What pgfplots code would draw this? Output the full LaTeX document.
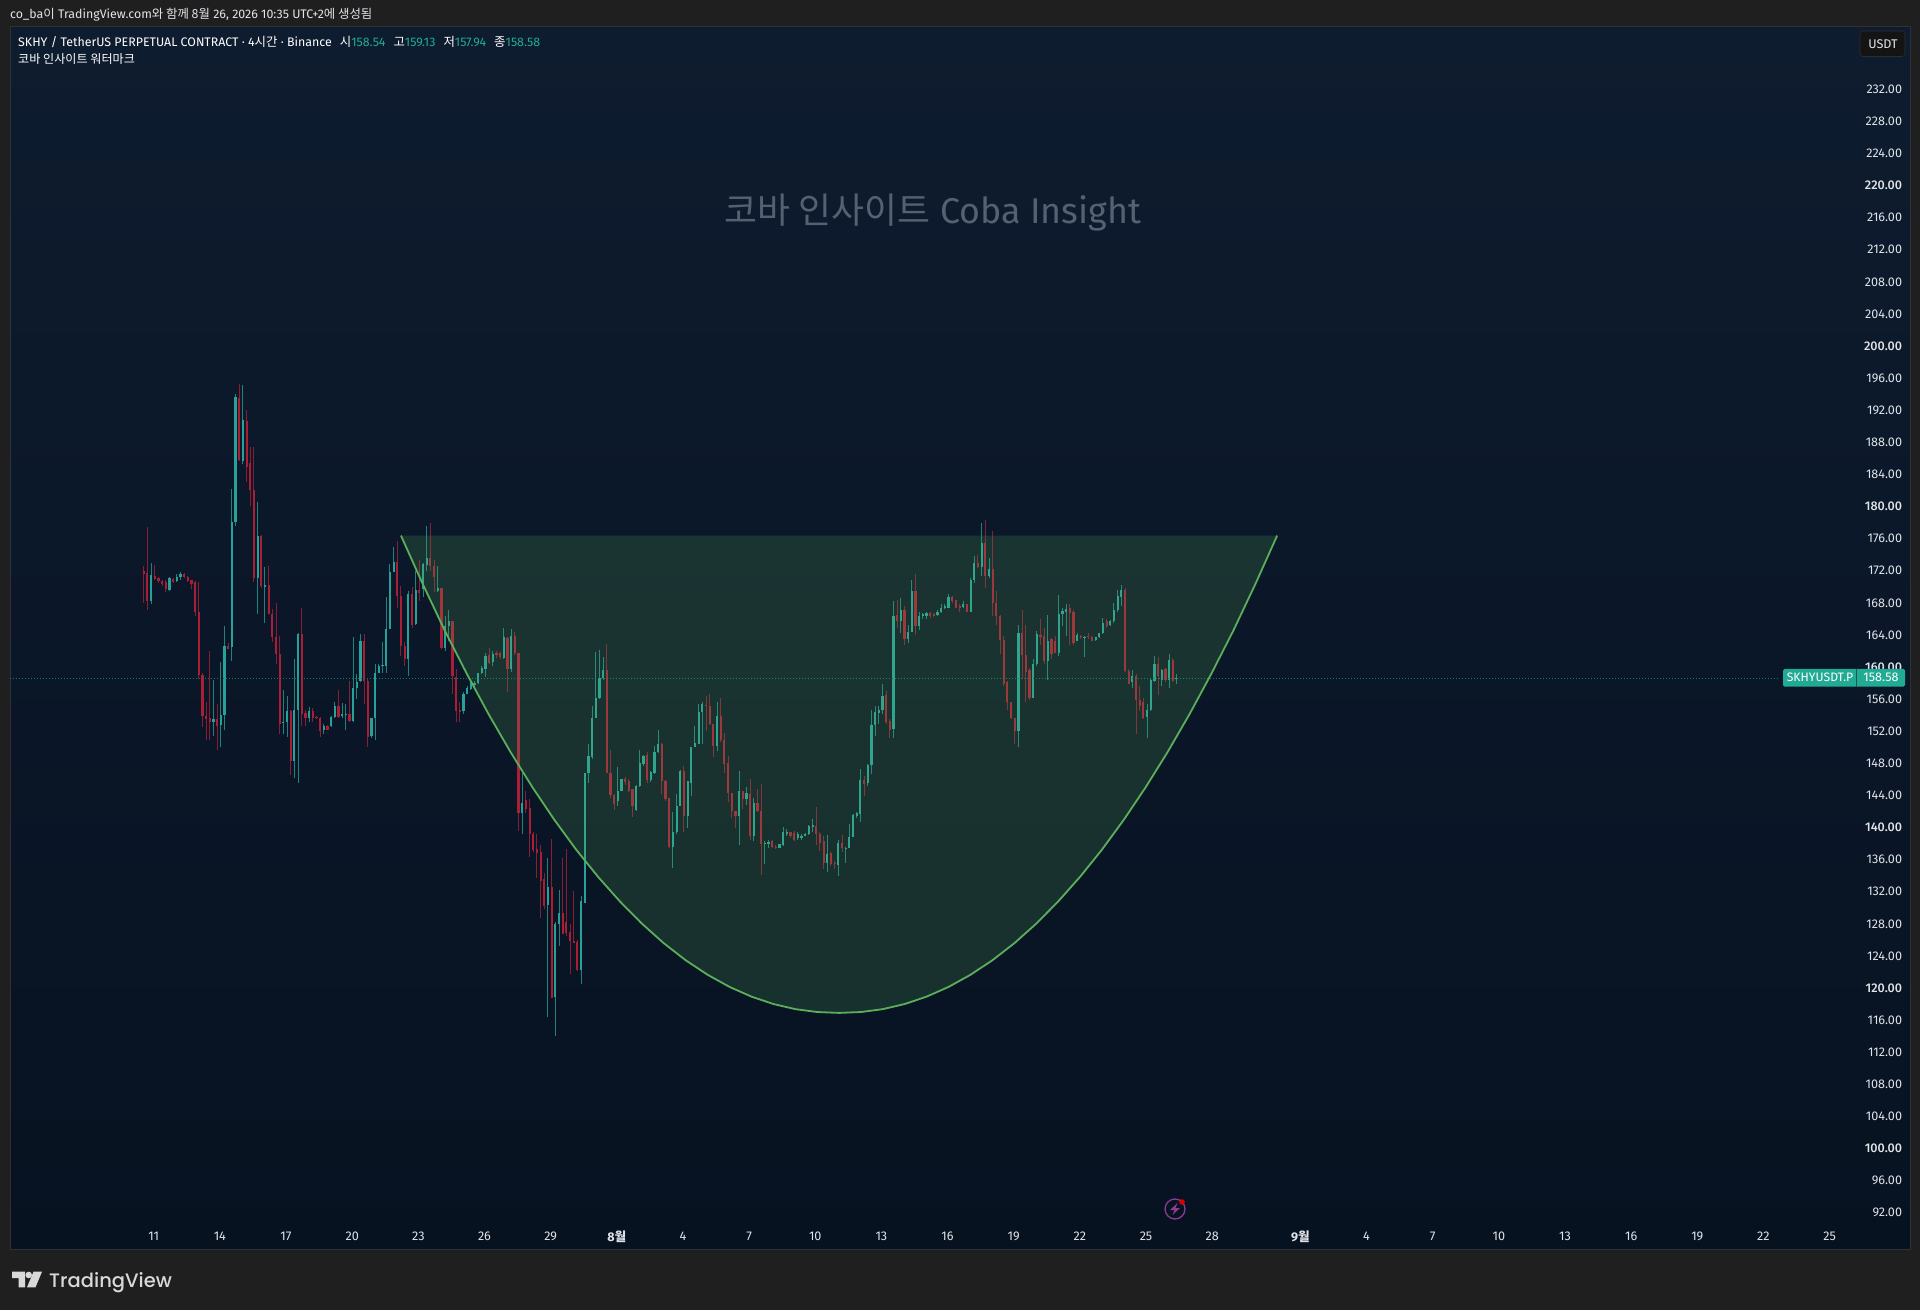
\documentclass[border=0pt]{standalone}
\usepackage{fontspec}
\usepackage{pgfplots}
\usepackage{pgfplotstable}
\pgfplotsset{compat=1.18}
\setmainfont{Fira Sans}
\newfontfamily\kr{Noto Sans CJK KR}
\newfontfamily\logofont{Poppins Medium}
\newfontfamily\mf{Fira Sans Medium}
\definecolor{outer}{RGB}{31,31,31}
\definecolor{frame}{RGB}{46,50,56}
\definecolor{bgtop}{RGB}{14,28,47}
\definecolor{bgbot}{RGB}{7,18,33}
\definecolor{teal}{RGB}{40,162,152}
\definecolor{tealw}{RGB}{31,130,124}
\definecolor{crim}{RGB}{172,30,54}
\definecolor{crimw}{RGB}{135,30,52}
\definecolor{tag}{RGB}{34,171,148}
\definecolor{curve}{RGB}{92,175,90}
\definecolor{wm}{RGB}{85,97,113}
\definecolor{txt}{RGB}{224,227,232}
\definecolor{volt}{RGB}{142,58,150}
% candle index i: 6 candles per day. columns: i low high bodylow bodyhigh
\pgfplotstableread{
i l h b t
2 167.8 173.0 168.2 171.5
7 169.5 171.2 169.6 171.1
9 170.6 171.6 170.7 171.2
10 170.9 171.9 171.2 171.6
19 151.4 158.4 153.2 153.5
21 150.0 160.6 152.8 154.0
22 152.1 165.1 154.0 162.6
24 160.8 182.2 162.5 178.1
25 177.6 194.0 178.1 193.6
27 185.3 195.2 185.7 190.8
31 166.6 180.6 171.1 176.3
33 165.5 172.5 170.0 170.2
38 151.7 157.2 153.0 153.2
39 151.3 156.4 153.1 154.5
41 146.2 161.0 148.3 154.7
42 145.6 164.3 154.7 164.1
45 153.1 155.0 153.6 154.5
49 151.6 152.9 152.1 152.7
51 152.5 153.9 152.6 153.8
52 153.6 155.6 153.8 155.2
54 153.6 155.5 153.9 154.1
55 152.1 155.4 154.0 154.1
57 153.1 163.7 153.3 157.4
58 156.0 159.1 157.4 158.1
59 158.1 164.1 158.2 163.3
62 151.2 153.7 151.4 153.7
63 150.9 160.4 153.7 159.3
64 159.3 160.4 159.3 160.1
65 159.2 163.1 160.1 160.2
66 159.3 168.7 160.1 164.8
67 164.7 172.9 164.8 171.8
68 171.8 174.9 171.8 173.1
72 158.9 169.5 161.0 169.1
74 165.3 172.0 165.4 169.6
76 168.7 173.0 169.7 172.8
77 172.0 177.6 172.7 173.6
80 169.3 172.6 169.5 169.9
82 162.0 166.4 162.4 165.1
83 163.3 167.1 165.1 165.7
87 154.2 156.9 154.5 156.6
88 156.6 157.6 156.6 157.4
89 157.1 158.5 157.3 158.0
90 157.3 158.2 157.8 158.0
91 157.9 159.3 158.0 159.2
92 159.1 160.1 159.2 159.9
93 158.8 161.8 159.8 161.4
95 160.1 162.0 160.6 161.6
98 161.0 164.9 161.1 163.7
100 159.4 164.7 159.8 163.9
103 139.2 146.8 141.8 143.1
110 116.4 136.2 130.4 132.6
112 114.0 128.2 118.9 128.0
113 125.2 132.2 128.0 129.4
119 120.5 131.5 122.2 130.8
120 130.6 146.8 130.6 146.8
121 145.6 150.4 146.8 148.9
122 148.6 155.1 148.8 153.7
123 153.7 161.9 153.7 156.1
124 156.0 162.1 156.2 158.6
125 158.4 161.2 158.6 159.6
129 142.7 147.5 143.3 144.6
130 144.5 146.1 144.6 146.1
134 142.0 145.3 142.2 145.2
135 145.1 149.7 145.2 148.0
136 147.7 149.0 147.9 148.9
138 145.7 147.0 145.9 146.9
139 146.7 150.1 146.8 149.4
140 149.3 152.1 149.4 150.4
144 134.9 141.9 137.6 139.4
145 139.2 144.2 139.4 142.7
146 142.7 147.2 142.7 147.0
148 140.0 145.8 141.4 145.8
149 143.9 150.0 145.6 150.0
150 150.0 152.7 150.0 150.5
151 150.4 155.4 150.4 154.4
152 150.4 155.6 154.4 155.4
156 149.5 155.7 150.2 153.9
162 137.8 147.1 141.4 144.6
164 142.8 145.0 143.5 144.3
166 138.3 143.7 138.9 143.0
169 135.5 138.3 138.0 138.1
170 137.4 138.4 138.0 138.2
173 137.5 138.0 137.5 137.9
174 137.7 140.1 137.8 139.4
175 139.0 139.8 139.2 139.4
178 138.5 139.5 138.7 139.2
179 138.5 139.2 138.7 139.0
180 138.9 139.3 139.0 139.2
181 139.1 140.3 139.2 140.2
182 139.5 141.1 140.1 140.3
186 134.4 139.1 135.6 136.7
189 134.0 138.5 135.3 138.1
191 135.6 137.6 137.4 137.5
192 137.4 140.5 137.5 138.8
193 138.8 141.7 138.8 141.6
194 141.2 141.9 141.4 141.8
195 140.7 147.3 141.7 145.9
197 145.2 147.9 145.5 147.8
198 146.7 154.7 147.8 152.8
199 151.4 155.1 152.8 154.4
200 152.9 155.1 154.3 154.7
201 154.1 157.9 154.6 156.4
204 151.2 168.2 152.3 166.4
206 164.3 168.6 165.7 167.1
208 163.0 165.2 163.5 164.4
209 164.4 170.9 164.4 169.5
211 164.6 166.8 165.1 166.4
212 166.0 166.7 166.3 166.6
213 166.0 166.8 166.4 166.7
216 166.3 167.1 166.5 166.9
217 166.7 167.9 166.8 167.4
218 167.2 167.8 167.3 167.6
219 167.3 169.1 167.3 168.7
223 167.3 168.2 167.5 167.8
225 166.9 171.1 166.9 170.9
226 170.5 173.8 170.9 173.0
228 171.4 177.9 172.5 175.5
230 171.1 173.6 171.4 172.2
238 150.0 165.3 152.0 164.3
242 156.2 161.0 156.2 160.4
243 160.1 164.5 160.4 164.1
246 158.4 166.5 160.7 163.3
249 161.4 169.0 161.8 166.6
250 165.1 167.4 166.6 167.0
251 163.9 167.9 166.9 167.2
254 163.2 164.2 163.3 164.0
256 161.2 163.9 163.7 163.8
259 163.3 163.8 163.4 163.7
260 163.6 164.3 163.7 164.2
261 164.1 166.1 164.2 165.5
263 165.1 165.8 165.2 165.7
264 165.5 168.0 165.7 167.1
265 166.9 169.6 167.1 168.9
266 167.6 170.2 168.7 169.6
269 157.4 159.6 158.1 158.9
273 151.2 155.4 153.8 154.6
274 154.5 158.5 154.6 158.4
275 158.1 161.4 158.3 160.4
277 157.6 159.7 158.4 159.6
279 157.4 161.6 158.4 160.9
281 157.94 159.13 158.54 158.58
}\upc
\pgfplotstableread{
i l h b t
0 168.0 172.6 171.6 172.0
1 167.1 177.5 168.2 171.7
3 170.9 172.7 171.0 171.4
4 170.5 171.2 170.7 171.1
5 170.1 170.8 170.3 170.7
6 169.4 170.8 169.7 170.6
8 170.5 171.1 170.6 171.0
11 171.1 171.7 171.2 171.6
12 170.6 171.4 170.7 171.2
13 169.7 170.9 170.3 170.8
14 166.4 170.7 166.8 170.6
15 158.5 170.6 159.0 166.8
16 152.5 159.3 153.9 159.0
17 150.9 155.6 153.5 153.9
18 150.9 162.0 153.2 153.7
20 149.6 155.4 152.7 153.5
23 162.2 163.0 162.3 162.6
26 185.7 195.3 185.8 193.5
28 183.1 192.0 184.9 190.7
29 180.1 187.4 182.0 185.4
30 170.6 187.4 171.1 182.0
32 169.9 176.5 170.1 176.3
34 166.6 172.6 166.6 170.2
35 163.1 167.2 163.7 166.6
36 160.4 168.0 161.6 163.8
37 151.6 163.9 152.9 161.6
40 146.6 154.7 148.3 154.5
43 152.7 167.3 154.1 164.1
44 152.7 154.7 153.7 154.3
46 153.2 154.9 153.7 154.5
47 153.5 153.9 153.6 153.8
48 151.3 153.8 152.0 153.7
50 152.1 152.8 152.2 152.7
53 153.7 157.2 153.8 155.2
56 153.1 158.3 153.3 154.1
60 155.4 164.1 158.3 163.3
61 150.0 158.5 151.3 158.2
69 167.4 175.7 168.9 173.1
70 161.4 170.1 162.6 168.9
71 160.1 163.1 161.0 162.6
73 164.9 170.0 165.3 169.1
75 168.2 173.4 169.2 169.6
78 172.0 178.0 172.6 173.6
79 169.3 173.4 171.2 172.6
81 162.2 169.9 162.4 169.9
84 156.6 165.7 158.9 165.7
85 153.2 159.8 154.5 158.8
86 153.1 155.6 154.4 154.7
94 160.4 162.4 160.5 161.5
96 161.1 162.0 161.5 161.8
97 161.0 161.9 161.2 161.7
99 156.9 163.7 159.7 163.6
101 161.5 164.4 161.7 163.9
102 139.6 161.8 141.8 161.8
104 141.8 144.6 142.3 143.4
105 136.3 143.5 139.2 142.4
106 137.0 139.4 137.2 139.2
107 133.7 139.2 136.8 137.3
108 128.7 137.8 133.4 137.0
109 129.8 134.3 130.2 133.6
111 118.7 138.6 118.8 132.6
114 126.7 136.2 126.7 129.4
115 126.5 137.3 126.8 128.2
116 121.7 128.0 125.8 127.0
117 125.6 132.1 125.6 125.9
118 122.1 126.0 122.2 125.7
126 146.8 162.9 146.8 159.6
127 143.7 149.6 144.0 146.8
128 142.2 144.2 142.9 144.0
131 145.3 146.3 145.7 146.1
132 144.4 146.0 144.6 145.8
133 141.3 144.8 142.7 144.8
137 145.5 149.4 145.9 149.0
141 144.2 150.5 145.8 150.4
142 143.3 145.9 143.6 145.8
143 137.5 143.7 137.6 143.7
147 139.4 147.7 141.4 147.0
153 152.0 156.4 155.2 155.3
154 152.8 156.7 152.9 155.2
155 148.8 152.9 150.2 152.9
157 150.7 156.2 150.9 153.9
158 146.8 151.8 147.9 150.9
159 143.2 148.9 144.3 148.0
160 141.2 144.3 142.0 144.3
161 140.0 142.1 141.4 142.0
163 142.3 144.6 143.5 144.6
165 138.4 146.0 138.9 144.2
167 141.9 144.8 142.0 143.0
168 134.1 145.4 138.0 142.0
171 137.5 138.5 137.6 138.3
172 137.3 137.8 137.4 137.6
176 138.7 139.5 139.0 139.4
177 138.3 139.6 138.5 139.3
183 137.8 142.5 139.2 140.2
184 137.1 139.4 138.1 139.2
185 134.8 138.9 135.6 138.3
187 135.2 136.9 135.4 136.8
188 134.8 135.8 135.4 135.6
190 136.9 139.1 137.4 138.1
196 143.9 146.4 145.4 145.9
202 152.9 157.0 153.2 156.5
203 151.1 153.5 152.2 153.3
205 164.9 168.4 165.7 166.5
207 162.8 167.6 163.5 167.1
210 164.0 171.6 165.1 169.5
214 166.1 166.8 166.3 166.7
215 166.2 166.7 166.4 166.6
220 168.0 168.9 168.2 168.7
221 167.3 168.4 167.4 168.3
222 166.8 167.8 167.3 167.6
224 166.8 167.9 166.9 167.8
227 172.4 174.0 172.5 173.0
229 169.8 178.3 171.4 175.5
231 166.3 177.0 168.0 172.2
232 165.3 169.5 166.3 168.0
233 161.6 166.5 163.4 166.4
234 157.6 163.9 157.9 163.4
235 154.6 158.3 155.6 158.1
236 153.5 155.7 153.6 155.6
237 150.4 153.7 152.0 153.6
239 158.5 167.1 161.5 164.3
240 155.7 165.3 159.4 161.5
241 155.9 159.9 156.2 159.6
244 162.8 166.0 163.7 164.0
245 160.4 164.9 160.7 163.9
247 161.0 163.6 161.6 163.5
248 161.7 163.9 161.8 163.2
252 162.8 167.8 166.7 167.3
253 162.8 167.1 163.0 166.9
255 163.5 164.0 163.7 163.9
257 163.5 164.2 163.7 163.9
258 163.3 163.9 163.3 163.8
262 164.9 166.0 165.1 165.7
267 159.4 169.9 159.5 169.6
268 157.9 159.7 157.9 159.5
270 151.7 159.1 155.9 158.9
271 154.5 157.6 155.2 155.9
272 153.5 156.2 153.6 155.6
276 156.5 161.3 158.9 160.4
278 158.1 159.9 158.4 159.7
280 158.1 161.1 158.3 160.9
}\dnc
\pgfplotstableread{
i p
70.0 176.38
75.96 170.31
81.92 164.54
87.88 159.19
93.84 154.13
99.8 149.41
105.76 145.03
111.72 140.97
117.68 137.24
123.64 133.85
129.6 130.78
135.56 128.02
141.52 125.58
147.48 123.46
153.44 121.65
159.4 120.14
165.36 118.93
171.32 118.01
177.28 117.37
183.24 117.01
189.2 116.9
195.16 117.01
201.12 117.37
207.08 118.01
213.04 118.93
219.0 120.14
224.96 121.65
230.92 123.46
236.88 125.58
242.84 128.02
248.8 130.78
254.76 133.85
260.72 137.24
266.68 140.97
272.64 145.03
278.6 149.41
284.56 154.13
290.52 159.19
296.48 164.54
302.44 170.31
308.4 176.38
}\cup
\begin{document}
\begin{tikzpicture}[x=1pt,y=1pt]
\fill[outer] (0,0) rectangle (1920,1310);
\path[use as bounding box] (0,0) rectangle (1920,1310);
\begin{axis}[
  at={(10pt,61pt)}, anchor=south west,
  width=1900pt, height=1222pt, scale only axis,
  xmin=-36.38, xmax=480.6, ymin=87.48, ymax=239.76,
  axis background/.style={top color=bgtop, bottom color=bgbot},
  axis line style={draw=frame, line width=1pt},
  tick style={draw=none}, major tick length=0pt,
  xtick={2.72,20.72,38.72,56.72,74.72,92.72,110.72,128.72,146.72,164.72,182.72,200.72,218.72,236.72,254.72,272.72,290.72,314.72,332.72,350.72,368.72,386.72,404.72,422.72,440.72,458.72},
  xticklabels={11,14,17,20,23,26,29,{\bfseries 8{\kr 월}},4,7,10,13,16,19,22,25,28,{\bfseries 9{\kr 월}},4,7,10,13,16,19,22,25},
  ytick={92,96,100,104,108,112,116,120,124,128,132,136,140,144,148,152,156,160,164,168,172,176,180,184,188,192,196,200,204,208,212,216,220,224,228,232},
  yticklabels={92.00,96.00,{\mf 100.00},104.00,108.00,112.00,116.00,{\mf 120.00},124.00,128.00,132.00,136.00,{\mf 140.00},144.00,148.00,152.00,156.00,{\mf 160.00},164.00,168.00,172.00,176.00,{\mf 180.00},184.00,188.00,192.00,196.00,{\mf 200.00},204.00,208.00,212.00,216.00,{\mf 220.00},224.00,228.00,232.00},
  yticklabel pos=right,
  xticklabel style={anchor=center, yshift=12.3pt, font=\fontsize{12.6}{14}\selectfont, text=txt},
  yticklabel style={anchor=east, xshift=-8pt, font=\fontsize{12.6}{14}\selectfont, text=txt},
  tick label style={inner sep=0pt, outer sep=0pt},
  clip=true,
]
\addplot[draw=none, mark=none, forget plot, error bars/.cd, y dir=plus, y explicit, error mark=none, error bar style={line width=1pt, draw=tealw, solid}] table[x=i, y=l, y error expr=\thisrow{h}-\thisrow{l}] {\upc};
\addplot[draw=none, mark=none, forget plot, error bars/.cd, y dir=plus, y explicit, error mark=none, error bar style={line width=1pt, draw=crimw, solid}] table[x=i, y=l, y error expr=\thisrow{h}-\thisrow{l}] {\dnc};
\addplot[draw=none, mark=none, forget plot, error bars/.cd, y dir=plus, y explicit, error mark=none, error bar style={line width=2.2pt, draw=teal, solid}] table[x=i, y=b, y error expr=\thisrow{t}-\thisrow{b}] {\upc};
\addplot[draw=none, mark=none, forget plot, error bars/.cd, y dir=plus, y explicit, error mark=none, error bar style={line width=2.2pt, draw=crim, solid}] table[x=i, y=b, y error expr=\thisrow{t}-\thisrow{b}] {\dnc};
\addplot[draw=tag!70!black, line width=0.8pt, dash pattern=on 1pt off 2pt, forget plot] coordinates {(-36.38,158.58) (445,158.58)};
\addplot[draw=none, fill=curve, fill opacity=0.19, forget plot] table[x=i, y=p] {\cup} -- cycle;
\addplot[draw=curve, line width=1.8pt, line join=round, mark=none, forget plot] table[x=i, y=p] {\cup};
\end{axis}
% price tag
\fill[tag, rounded corners=1.5pt] (1783,623.3) rectangle (1905,641);
\draw[outer!60!tag, line width=0.8pt] (1856.7,623.3) -- (1856.7,641);
\node[anchor=center, inner sep=0, text=white, font=\fontsize{12.2}{14}\selectfont] at (1820,632.2) {SKHYUSDT.P};
\node[anchor=center, inner sep=0, text=white, font=\fontsize{12.6}{14}\selectfont] at (1881,632.2) {158.58};
% USDT box
\fill[black!92!white, rounded corners=3pt] (1860,1253.5) rectangle (1905,1279);
\draw[white!18!black, rounded corners=3pt, line width=0.6pt] (1860,1253.5) rectangle (1905,1279);
\node[inner sep=0, text=txt, font=\fontsize{12.6}{14}\selectfont] at (1883,1266) {USDT};
% header texts
\node[anchor=west, inner sep=0, text=txt, font=\fontsize{12.4}{14}\selectfont] at (10,1295) {co\_ba{\kr 이} TradingView.com{\kr 와 함께 8월} 26, 2026 10:35 UTC+2{\kr 에 생성됨}};
\node[anchor=west, inner sep=0, text=white, font=\fontsize{12.4}{14}\selectfont] at (18,1268) {SKHY / TetherUS PERPETUAL CONTRACT · 4{\kr 시간} · Binance\hspace{8pt}{\kr 시}\textcolor{tag}{158.54}\hspace{8pt}{\kr 고}\textcolor{tag}{159.13}\hspace{8pt}{\kr 저}\textcolor{tag}{157.94}\hspace{8pt}{\kr 종}\textcolor{tag}{158.58}};
\node[anchor=west, inner sep=0, text=white, font=\fontsize{12.1}{14}\selectfont\kr] at (18,1251) {코바 인사이트 워터마크};
% watermark
\node[inner sep=0, text=wm, font=\fontsize{35.8}{42}\selectfont] at (933,1097.6) {{\kr 코바 인사이트} Coba Insight};
% bolt icon
\draw[volt, line width=1.3pt] (1175,101) circle (10);
\fill[volt] (1177.5,107) -- (1170,100) -- (1174.5,100) -- (1172.5,95) -- (1180,102) -- (1175.5,102) -- cycle;
\fill[red!85!black] (1182,108) circle (2.8);
% logo
\fill[white!85!black] (12,38.3) -- (25,38.3) -- (25,22.7) -- (18.7,22.7) -- (18.7,32) -- (12,32) -- cycle;
\fill[white!85!black] (28.7,35) circle (3.3);
\fill[white!85!black] (33.5,38.3) -- (42,38.3) -- (35.5,22.7) -- (27,22.7) -- cycle;
\node[anchor=west, inner sep=0, text=white!85!black, font=\fontsize{19.5}{24}\selectfont\logofont] at (49,27) {TradingView};
\end{tikzpicture}
\end{document}
